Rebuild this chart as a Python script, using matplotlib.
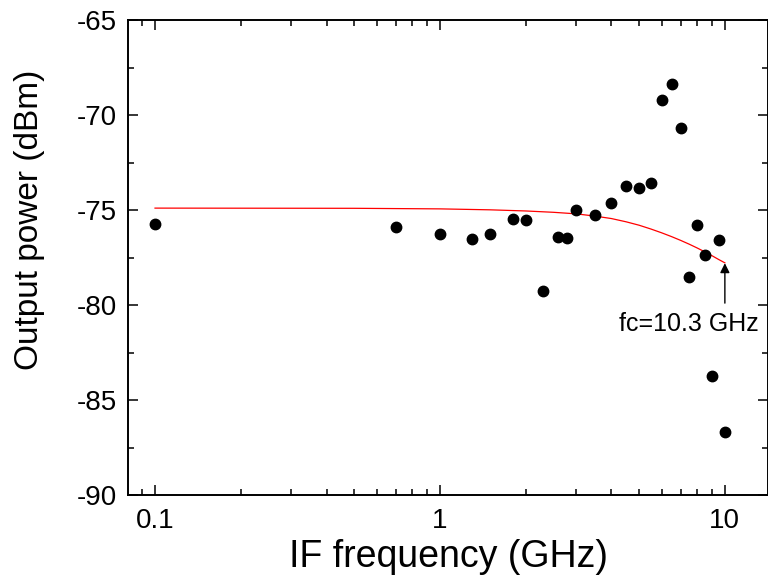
import numpy as np
import matplotlib
matplotlib.use("Agg")
import matplotlib.pyplot as plt
from matplotlib.ticker import LogLocator, NullFormatter, FixedLocator, FuncFormatter

plt.rcParams['font.family'] = ['Liberation Sans', 'DejaVu Sans']
plt.rcParams['axes.unicode_minus'] = False

# measured IF output power
freq = [0.1, 0.7, 1.0, 1.3, 1.5, 1.8, 2.0, 2.3, 2.6, 2.8, 3.0, 3.5, 4.0,
        4.5, 5.0, 5.5, 6.0, 6.5, 7.0, 7.5, 8.0, 8.5, 9.0, 9.5, 10.0]
power = [-75.75, -75.9, -76.28, -76.54, -76.25, -75.46, -75.54, -79.25,
         -76.42, -76.47, -75.0, -75.26, -74.63, -73.74, -73.84, -73.56,
         -69.21, -68.37, -70.67, -78.5, -75.8, -77.39, -83.74, -76.56, -86.67]

# fitted response (red curve)
fit_freq = [0.1, 0.5, 1.0, 1.5, 2.0, 2.5, 3.0, 3.5, 4.0, 4.5, 5.0, 5.5,
            6.0, 6.5, 7.0, 7.5, 8.0, 8.5, 9.0, 9.5, 10.0]
fit_power = [-74.9, -74.91, -74.94, -74.99, -75.05, -75.12, -75.2, -75.32,
             -75.45, -75.62, -75.8, -76.0, -76.2, -76.4, -76.6, -76.8,
             -77.0, -77.2, -77.4, -77.6, -77.78]

fig = plt.figure(figsize=(7.68, 5.85), dpi=100)
ax = fig.add_axes([0.1667, 0.1538, 0.8333, 0.812])

ax.plot(fit_freq, fit_power, color='red', lw=0.9)
ax.plot(freq, power, 'o', color='black', ms=7.5, mec='black')

ax.annotate('', xy=(10.0, -77.8), xytext=(10.0, -79.9),
            arrowprops=dict(arrowstyle='-|>', color='black', lw=1.0,
                            mutation_scale=14, shrinkA=0, shrinkB=0))
ax.text(7.45, -81.0, 'fc=10.3 GHz', fontsize=18, ha='center', va='center')

ax.set_xscale('log')
ax.set_xlim(0.0804, 14.17)
ax.set_ylim(-90, -65)

ax.xaxis.set_major_locator(FixedLocator([0.1, 1, 10]))
ax.xaxis.set_major_formatter(FuncFormatter(lambda v, p: '%g' % v))
ax.xaxis.set_minor_locator(LogLocator(base=10, subs=np.arange(2, 10)))
ax.xaxis.set_minor_formatter(NullFormatter())
ax.set_yticks([-90, -85, -80, -75, -70, -65])
ax.set_yticks(np.arange(-87.5, -65, 5), minor=True)

ax.tick_params(which='both', direction='in', top=True, right=True,
               width=1.1, labelsize=20)
ax.tick_params(which='major', length=7)
ax.tick_params(which='minor', length=4)
ax.tick_params(axis='x', pad=9)
ax.tick_params(axis='y', pad=8)
for s in ax.spines.values():
    s.set_linewidth(1.4)

ax.set_xlabel('IF frequency (GHz)', fontsize=27, labelpad=4)
ax.set_ylabel('Output power (dBm)', fontsize=24)
ax.yaxis.set_label_coords(-0.13, 0.58)

fig.savefig('out.png', dpi=100)
